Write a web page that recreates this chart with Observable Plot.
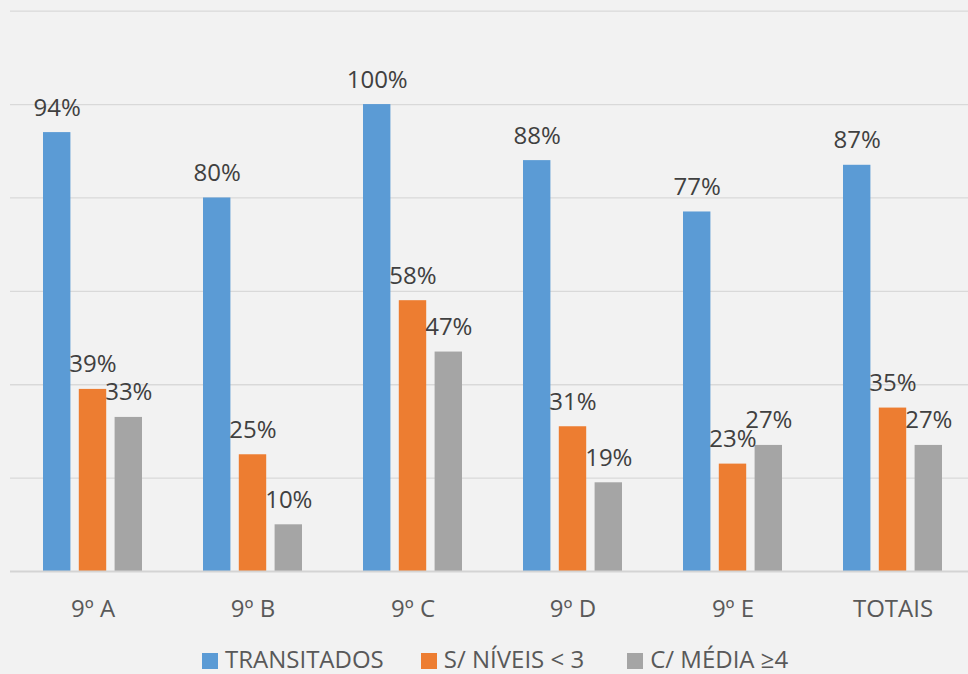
<!DOCTYPE html>
<html>
<head>
<meta charset="utf-8">
<script src="https://cdn.jsdelivr.net/npm/d3@7"></script>
<script src="https://cdn.jsdelivr.net/npm/@observablehq/plot@0.6"></script>
<style>
  html, body { margin: 0; padding: 0; background: #f2f2f2; overflow: hidden; }
  #chart svg { display: block; background: #f2f2f2; }
  #legend { height: 44px; box-sizing: border-box; padding-top: 14px; padding-left: 202px;
    font-family: "Open Sans", sans-serif; font-size: 24px; line-height: 30px; color: #595959; white-space: nowrap; }
  .item { display: inline-block; }
  .sw { display: inline-block; width: 16px; height: 16px; margin-right: 7px; vertical-align: -1px; }
</style>
</head>
<body>
<div id="chart"></div>
<div id="legend"></div>
<script>
const categories = ["9º A", "9º B", "9º C", "9º D", "9º E", "TOTAIS"];
const series = ["TRANSITADOS", "S/ NÍVEIS < 3", "C/ MÉDIA ≥4"];
const transitados = [94, 80, 100, 88, 77, 87];
const niveis = [39, 25, 58, 31, 23, 35];
const media = [33, 10, 47, 19, 27, 27];
const yTicks = [20, 40, 60, 80, 100, 120];
const colors = ["#5b9bd5", "#ed7d31", "#a5a5a5"];

const seriesValues = [transitados, niveis, media];
const rows = seriesValues.map((vals, s) => categories.map((c, i) => ({category: c, series: series[s], value: vals[i]})));

const bw = 99.3;      // band width in px
const barW = 27.7;    // single bar width
const step = 35.8;    // bar step within group
const insets = [
  {insetLeft: 0, insetRight: bw - barW},
  {insetLeft: step, insetRight: bw - step - barW},
  {insetLeft: 2 * step, insetRight: 0}
];
const dxs = [-step, 0, step];

const marks = [
  Plot.ruleY(yTicks, {stroke: "#d9d9d9", strokeWidth: 1.3})
];
rows.forEach((data, s) => {
  marks.push(Plot.barY(data, {x: "category", y: "value", fill: colors[s], ...insets[s]}));
});
rows.forEach((data, s) => {
  marks.push(Plot.text(data, {x: "category", y: "value", text: d => d.value + "%", dx: dxs[s], dy: -17,
    lineAnchor: "bottom", fill: "#404040"}));
});
marks.push(Plot.ruleY([0], {stroke: "#d4d4d4", strokeWidth: 2}));

const chart = Plot.plot({
  width: 968,
  height: 630,
  marginLeft: 10,
  marginRight: 0,
  marginTop: 10,
  marginBottom: 59,
  style: {background: "#f2f2f2", fontFamily: "'Open Sans', sans-serif", fontSize: "24px", color: "#595959", overflow: "visible"},
  x: {domain: categories, range: [10.35, 973.95], paddingInner: 0.3817, paddingOuter: 0.19085,
      tickSize: 0, tickPadding: 28, label: null},
  y: {domain: [0, 120], range: [571, 10.7], axis: null},
  marks
});
document.getElementById("chart").appendChild(chart);

const legend = document.getElementById("legend");
const gaps = [0, 37, 43];
series.forEach((name, i) => {
  const item = document.createElement("span");
  item.className = "item";
  item.style.marginLeft = gaps[i] + "px";
  const sw = document.createElement("span");
  sw.className = "sw";
  sw.style.background = colors[i];
  item.appendChild(sw);
  item.appendChild(document.createTextNode(name));
  legend.appendChild(item);
});
</script>
</body>
</html>
